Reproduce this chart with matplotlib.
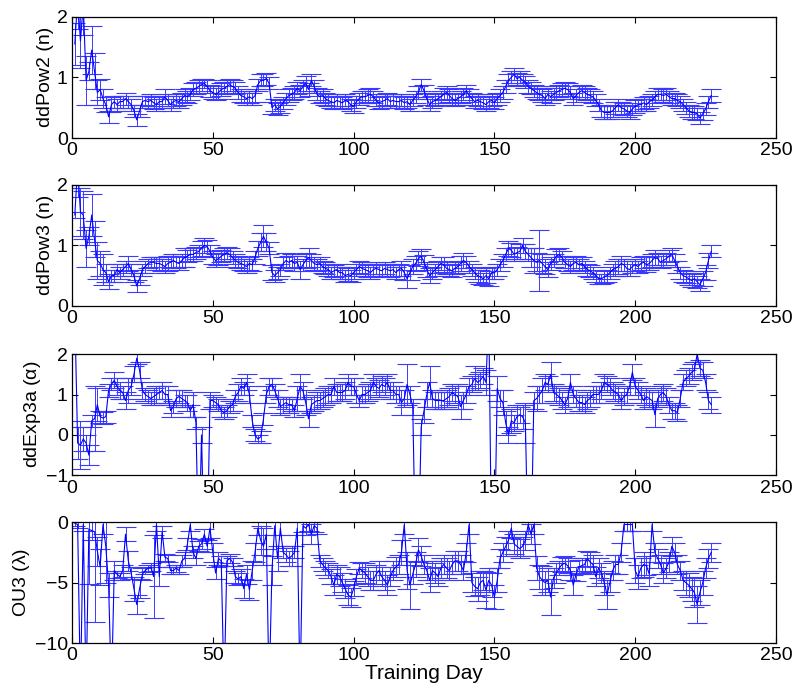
import numpy as np
import matplotlib.pyplot as plt

plt.rcParams['font.family'] = ['Liberation Sans', 'DejaVu Sans']
plt.rcParams['mathtext.fontset'] = 'custom'
plt.rcParams['mathtext.rm'] = 'Liberation Sans'
plt.rcParams['mathtext.it'] = 'Liberation Sans'

days = np.arange(1, 228)

pow2 = [1.55, 2.3, 1.6, 2.2, 0.95, 1.1, 1.45, 1.1, 0.75, 0.8,
        0.65, 0.55, 0.35, 0.55, 0.6, 0.55, 0.6, 0.6, 0.65, 0.6,
        0.55, 0.45, 0.3, 0.45, 0.6, 0.62, 0.6, 0.62, 0.58, 0.55,
        0.6, 0.6, 0.68, 0.62, 0.55, 0.6, 0.62, 0.6, 0.65, 0.7,
        0.68, 0.72, 0.8, 0.82, 0.85, 0.88, 0.9, 0.85, 0.78, 0.75,
        0.72, 0.75, 0.8, 0.82, 0.85, 0.88, 0.85, 0.82, 0.75, 0.7,
        0.68, 0.65, 0.68, 0.65, 0.7, 0.88, 0.95, 0.95, 0.98, 0.9,
        0.5, 0.55, 0.48, 0.52, 0.58, 0.65, 0.7, 0.72, 0.75, 0.82,
        0.78, 0.85, 0.9, 0.8, 0.95, 0.85, 0.72, 0.68, 0.7, 0.65,
        0.62, 0.6, 0.58, 0.62, 0.6, 0.58, 0.62, 0.6, 0.55, 0.52,
        0.6, 0.65, 0.68, 0.68, 0.7, 0.72, 0.68, 0.62, 0.58, 0.6,
        0.62, 0.65, 0.6, 0.62, 0.6, 0.6, 0.62, 0.58, 0.6, 0.55,
        0.62, 0.68, 0.75, 0.88, 0.78, 0.65, 0.55, 0.6, 0.62, 0.65,
        0.68, 0.72, 0.75, 0.7, 0.65, 0.62, 0.65, 0.68, 0.72, 0.78,
        0.7, 0.65, 0.6, 0.62, 0.6, 0.58, 0.55, 0.6, 0.62, 0.58,
        0.65, 0.7, 0.75, 0.85, 0.95, 1.0, 1.05, 0.98, 1.0, 0.95,
        0.92, 0.85, 0.82, 0.78, 0.75, 0.72, 0.7, 0.65, 0.72, 0.68,
        0.72, 0.75, 0.78, 0.8, 0.82, 0.8, 0.75, 0.65, 0.7, 0.75,
        0.78, 0.75, 0.72, 0.7, 0.68, 0.62, 0.55, 0.45, 0.42, 0.42,
        0.42, 0.45, 0.5, 0.55, 0.5, 0.48, 0.45, 0.42, 0.48, 0.52,
        0.55, 0.55, 0.58, 0.55, 0.6, 0.62, 0.68, 0.72, 0.72, 0.7,
        0.72, 0.68, 0.65, 0.65, 0.62, 0.6, 0.55, 0.5, 0.45, 0.42,
        0.42, 0.4, 0.33, 0.4, 0.48, 0.6, 0.7]
pow2_err = [0.35, 0.5, 0.45, 0.5, 0.4, 0.15, 0.4, 0.3, 0.2, 0.18,
            0.15, 0.12, 0.1, 0.12, 0.1, 0.1, 0.1, 0.1, 0.1, 0.1,
            0.1, 0.1, 0.1, 0.1, 0.1, 0.08, 0.1, 0.1, 0.1, 0.1,
            0.1, 0.1, 0.12, 0.1, 0.1, 0.1, 0.1, 0.1, 0.1, 0.1,
            0.1, 0.1, 0.1, 0.1, 0.1, 0.1, 0.08, 0.1, 0.1, 0.1,
            0.1, 0.1, 0.1, 0.1, 0.1, 0.1, 0.1, 0.1, 0.1, 0.1,
            0.1, 0.1, 0.1, 0.1, 0.1, 0.1, 0.1, 0.1, 0.1, 0.1,
            0.1, 0.1, 0.1, 0.1, 0.1, 0.1, 0.1, 0.1, 0.1, 0.1,
            0.1, 0.1, 0.12, 0.1, 0.1, 0.1, 0.1, 0.1, 0.1, 0.1,
            0.1, 0.1, 0.1, 0.1, 0.1, 0.1, 0.1, 0.1, 0.1, 0.1,
            0.1, 0.1, 0.1, 0.1, 0.1, 0.1, 0.1, 0.1, 0.1, 0.1,
            0.1, 0.1, 0.1, 0.1, 0.1, 0.1, 0.1, 0.1, 0.1, 0.1,
            0.1, 0.1, 0.1, 0.1, 0.1, 0.1, 0.1, 0.1, 0.1, 0.1,
            0.1, 0.1, 0.1, 0.1, 0.1, 0.1, 0.1, 0.1, 0.1, 0.1,
            0.1, 0.1, 0.1, 0.1, 0.1, 0.1, 0.1, 0.1, 0.1, 0.1,
            0.1, 0.1, 0.1, 0.1, 0.1, 0.1, 0.1, 0.1, 0.1, 0.1,
            0.1, 0.1, 0.1, 0.1, 0.1, 0.1, 0.1, 0.1, 0.1, 0.1,
            0.1, 0.1, 0.1, 0.1, 0.1, 0.1, 0.1, 0.1, 0.1, 0.1,
            0.1, 0.1, 0.1, 0.1, 0.1, 0.1, 0.1, 0.1, 0.1, 0.1,
            0.1, 0.1, 0.1, 0.1, 0.1, 0.1, 0.1, 0.1, 0.1, 0.1,
            0.1, 0.1, 0.1, 0.1, 0.1, 0.1, 0.1, 0.1, 0.1, 0.1,
            0.1, 0.1, 0.1, 0.1, 0.1, 0.1, 0.1, 0.1, 0.1, 0.1,
            0.1, 0.1, 0.1, 0.1, 0.1, 0.1, 0.1]

pow3 = [1.5, 2.3, 1.55, 1.5, 0.95, 1.15, 1.5, 1.1, 0.75, 0.7,
        0.6, 0.55, 0.4, 0.5, 0.5, 0.6, 0.55, 0.6, 0.65, 0.7,
        0.6, 0.5, 0.33, 0.45, 0.6, 0.65, 0.7, 0.72, 0.72, 0.7,
        0.7, 0.68, 0.65, 0.7, 0.72, 0.75, 0.72, 0.7, 0.75, 0.8,
        0.82, 0.85, 0.85, 0.88, 0.9, 0.95, 1.0, 0.98, 0.9, 0.8,
        0.75, 0.78, 0.82, 0.85, 0.88, 0.85, 0.8, 0.75, 0.72, 0.7,
        0.68, 0.65, 0.7, 0.68, 0.8, 0.95, 1.05, 1.15, 1.05, 0.95,
        0.55, 0.5, 0.55, 0.6, 0.7, 0.75, 0.72, 0.75, 0.7, 0.72,
        0.6, 0.68, 0.75, 0.8, 0.75, 0.7, 0.68, 0.7, 0.65, 0.62,
        0.6, 0.55, 0.58, 0.6, 0.55, 0.55, 0.5, 0.52, 0.5, 0.55,
        0.6, 0.65, 0.62, 0.6, 0.58, 0.55, 0.6, 0.62, 0.6, 0.58,
        0.62, 0.6, 0.58, 0.6, 0.55, 0.6, 0.62, 0.55, 0.45, 0.55,
        0.65, 0.7, 0.78, 0.82, 0.72, 0.6, 0.5, 0.55, 0.6, 0.65,
        0.7, 0.68, 0.62, 0.6, 0.58, 0.62, 0.65, 0.7, 0.75, 0.72,
        0.65, 0.6, 0.55, 0.5, 0.48, 0.45, 0.5, 0.45, 0.55, 0.55,
        0.6, 0.68, 0.75, 0.85, 0.95, 0.92, 0.85, 0.88, 0.9, 1.0,
        0.9, 0.85, 0.8, 0.75, 0.72, 0.75, 0.7, 0.65, 0.6, 0.7,
        0.75, 0.82, 0.85, 0.8, 0.72, 0.68, 0.65, 0.7, 0.72, 0.68,
        0.7, 0.65, 0.6, 0.58, 0.55, 0.5, 0.45, 0.45, 0.48, 0.5,
        0.55, 0.6, 0.62, 0.65, 0.7, 0.68, 0.62, 0.6, 0.65, 0.68,
        0.65, 0.7, 0.72, 0.68, 0.7, 0.75, 0.8, 0.78, 0.72, 0.75,
        0.78, 0.82, 0.85, 0.75, 0.65, 0.55, 0.5, 0.48, 0.45, 0.42,
        0.45, 0.4, 0.35, 0.45, 0.55, 0.75, 0.9]
pow3_err = [0.05, 0.5, 0.4, 0.4, 0.3, 0.15, 0.35, 0.3, 0.3, 0.2,
            0.25, 0.15, 0.12, 0.1, 0.1, 0.1, 0.1, 0.1, 0.1, 0.12,
            0.1, 0.1, 0.1, 0.1, 0.1, 0.1, 0.08, 0.08, 0.08, 0.1,
            0.1, 0.1, 0.1, 0.12, 0.1, 0.1, 0.1, 0.1, 0.1, 0.15,
            0.1, 0.1, 0.1, 0.1, 0.1, 0.12, 0.12, 0.1, 0.1, 0.1,
            0.1, 0.1, 0.1, 0.1, 0.1, 0.1, 0.1, 0.1, 0.1, 0.1,
            0.1, 0.1, 0.1, 0.1, 0.1, 0.12, 0.15, 0.18, 0.15, 0.1,
            0.12, 0.1, 0.1, 0.1, 0.1, 0.12, 0.1, 0.1, 0.12, 0.1,
            0.15, 0.1, 0.12, 0.15, 0.1, 0.1, 0.1, 0.1, 0.1, 0.1,
            0.1, 0.1, 0.1, 0.1, 0.1, 0.1, 0.1, 0.1, 0.1, 0.1,
            0.1, 0.1, 0.1, 0.1, 0.1, 0.1, 0.1, 0.1, 0.1, 0.1,
            0.1, 0.1, 0.1, 0.1, 0.1, 0.1, 0.12, 0.12, 0.15, 0.12,
            0.12, 0.12, 0.12, 0.12, 0.12, 0.12, 0.12, 0.1, 0.1, 0.1,
            0.1, 0.12, 0.1, 0.1, 0.1, 0.1, 0.1, 0.12, 0.12, 0.1,
            0.1, 0.1, 0.1, 0.1, 0.12, 0.1, 0.12, 0.12, 0.1, 0.1,
            0.1, 0.1, 0.1, 0.1, 0.12, 0.12, 0.1, 0.1, 0.12, 0.12,
            0.12, 0.1, 0.15, 0.2, 0.15, 0.5, 0.15, 0.12, 0.12, 0.1,
            0.1, 0.12, 0.1, 0.1, 0.1, 0.1, 0.1, 0.1, 0.1, 0.1,
            0.1, 0.1, 0.1, 0.1, 0.1, 0.1, 0.08, 0.08, 0.1, 0.1,
            0.1, 0.1, 0.12, 0.12, 0.12, 0.1, 0.12, 0.1, 0.1, 0.1,
            0.1, 0.1, 0.1, 0.12, 0.1, 0.1, 0.12, 0.1, 0.1, 0.1,
            0.1, 0.1, 0.1, 0.1, 0.1, 0.1, 0.1, 0.1, 0.1, 0.1,
            0.1, 0.1, 0.1, 0.12, 0.12, 0.12, 0.1]

exp3a = [3.0, -0.2, -0.25, -0.1, -0.2, -0.5, 0.35, 0.4, 0.75, 0.45,
         0.42, 0.45, 1.1, 1.25, 1.35, 1.2, 1.1, 1.05, 0.85, 1.1,
         1.2, 1.5, 1.9, 1.6, 1.1, 1.0, 0.95, 0.9, 0.95, 1.0,
         1.05, 1.1, 1.0, 1.0, 0.6, 0.7, 0.9, 0.95, 0.9, 0.85,
         0.8, 0.6, 0.75, 0.3, -3.0, 0.0, -3.0, -3.0, 0.85, 0.85,
         0.8, 0.75, 0.6, 0.55, 0.6, 0.7, 0.75, 0.95, 1.05, 1.2,
         1.15, 1.3, 1.0, 0.35, 0.0, -0.1, -0.05, 0.4, 1.0, 1.2,
         1.25, 1.1, 0.9, 0.7, 0.75, 0.8, 0.75, 0.75, 0.6, 0.9,
         1.2, 1.1, 0.8, 0.4, 0.75, 0.8, 0.85, 0.85, 0.9, 0.95,
         1.0, 1.0, 1.2, 1.05, 1.05, 1.05, 1.1, 1.3, 1.2, 1.2,
         1.0, 0.85, 1.0, 1.0, 1.05, 1.1, 1.3, 1.2, 1.15, 1.25,
         1.2, 1.3, 1.1, 1.1, 1.0, 1.0, 0.8, 0.9, 1.25, 1.0,
         0.7, -3.0, -3.0, 0.2, 0.6, 1.0, 1.3, 0.9, 0.85, 0.85,
         0.85, 0.85, 0.9, 0.95, 1.05, 1.0, 0.95, 0.7, 0.85, 1.0,
         1.2, 1.25, 1.4, 1.3, 1.35, 1.45, 1.3, 3.0, -3.0, -3.0,
         1.15, 0.9, 0.8, 0.3, 0.0, 0.35, 0.3, 0.45, 0.5, 0.45,
         0.3, -3.0, -3.0, 0.85, 0.9, 1.0, 1.1, 1.3, 1.25, 1.5,
         1.05, 1.0, 0.95, 0.85, 0.75, 0.9, 1.3, 1.0, 0.9, 0.8,
         0.8, 0.75, 0.85, 0.9, 1.0, 1.0, 1.0, 1.1, 1.3, 1.25,
         1.2, 1.1, 1.05, 1.0, 0.85, 0.95, 1.0, 1.2, 1.55, 1.2,
         1.1, 1.0, 0.85, 0.95, 0.9, 0.85, 0.5, 0.9, 1.0, 1.05,
         0.95, 0.75, 0.6, 0.6, 0.55, 0.9, 1.3, 1.4, 1.45, 1.55,
         1.6, 2.0, 1.65, 1.6, 1.3, 0.85, 0.75]
exp3a_err = [0.3, 0.4, 0.6, 0.3, 0.2, 0.25, 0.15, 0.8, 0.4, 0.15,
             0.15, 0.15, 0.15, 0.15, 0.2, 0.2, 0.2, 0.15, 0.2, 0.3,
             0.2, 0.2, 0.15, 0.2, 0.2, 0.15, 0.15, 0.15, 0.2, 0.2,
             0.15, 0.2, 0.2, 0.2, 0.15, 0.15, 0.2, 0.15, 0.2, 0.15,
             0.2, 0.15, 0.3, 0.15, 0.2, 0.2, 0.2, 0.2, 0.2, 0.15,
             0.15, 0.15, 0.15, 0.15, 0.15, 0.15, 0.15, 0.15, 0.2, 0.2,
             0.15, 0.2, 0.2, 0.15, 0.15, 0.1, 0.15, 0.15, 0.2, 0.2,
             0.15, 0.15, 0.2, 0.2, 0.2, 0.15, 0.2, 0.15, 0.15, 0.3,
             0.3, 0.2, 0.3, 0.2, 0.2, 0.2, 0.2, 0.2, 0.2, 0.2,
             0.2, 0.2, 0.2, 0.2, 0.2, 0.2, 0.2, 0.2, 0.2, 0.2,
             0.2, 0.15, 0.2, 0.2, 0.2, 0.2, 0.2, 0.2, 0.2, 0.2,
             0.2, 0.2, 0.2, 0.2, 0.2, 0.2, 0.3, 0.2, 0.5, 0.2,
             0.2, 0.2, 0.2, 0.2, 0.3, 0.3, 0.4, 0.2, 0.2, 0.2,
             0.2, 0.2, 0.2, 0.2, 0.2, 0.2, 0.3, 0.3, 0.2, 0.2,
             0.2, 0.2, 0.3, 0.2, 0.2, 0.2, 0.3, 0.2, 0.2, 0.2,
             0.3, 0.2, 0.3, 0.3, 0.2, 0.3, 0.2, 0.3, 0.2, 0.3,
             0.5, 0.2, 0.2, 0.2, 0.3, 0.2, 0.3, 0.2, 0.2, 0.3,
             0.2, 0.2, 0.2, 0.2, 0.2, 0.2, 0.2, 0.2, 0.2, 0.2,
             0.2, 0.2, 0.2, 0.2, 0.2, 0.2, 0.2, 0.2, 0.2, 0.2,
             0.2, 0.2, 0.2, 0.2, 0.2, 0.2, 0.2, 0.2, 0.2, 0.2,
             0.2, 0.2, 0.2, 0.2, 0.2, 0.2, 0.3, 0.2, 0.2, 0.2,
             0.2, 0.2, 0.2, 0.2, 0.2, 0.2, 0.2, 0.2, 0.2, 0.2,
             0.2, 0.2, 0.2, 0.2, 0.2, 0.2, 0.2]

ou3 = [-0.1, -0.2, -14, -0.2, -14, -0.6, -0.7, -0.8, -2.4, -3.7,
       -0.2, -2.0, -5.2, -14, -4.0, -4.3, -4.5, -4.0, -1.0, -3.2,
       -4.2, -5.5, -6.8, -5.5, -4.3, -4.0, -3.8, -3.7, -4.5, -0.2,
       -4.5, -0.8, -2.9, -3.0, -4.0, -4.0, -3.8, -4.0, -3.2, -3.0,
       -1.8, -0.2, -2.5, -3.0, -2.0, -1.8, -1.0, -2.0, -0.5, -2.5,
       -4.2, -3.0, -3.2, -14, -3.2, -3.0, -3.3, -4.5, -4.7, -4.5,
       -5.5, -4.3, -5.6, -4.0, -2.5, -0.5, -1.5, -2.0, -1.0, -14,
       -4.0, -0.3, -3.0, -0.5, -2.5, -2.7, -3.0, -2.8, -2.5, -0.5,
       -14, -0.3, -0.5, -0.2, -1.0, -0.3, -0.5, -3.2, -3.5, -3.8,
       -4.0, -4.5, -5.2, -4.3, -4.5, -5.0, -5.5, -6.0, -6.2, -5.5,
       -4.5, -3.8, -4.0, -4.2, -4.5, -4.8, -4.8, -4.3, -4.0, -4.5,
       -4.8, -5.2, -4.5, -4.0, -3.7, -3.5, -2.5, -0.2, -4.0, -5.2,
       -4.3, -3.5, -2.3, -2.8, -3.5, -4.0, -4.8, -4.0, -4.2, -4.5,
       -3.8, -3.5, -3.8, -4.0, -3.5, -3.2, -3.2, -3.5, -4.0, -2.5,
       -0.2, -5.0, -5.3, -5.5, -5.0, -4.8, -5.6, -4.8, -5.2, -6.2,
       -4.8, -3.0, -2.5, -2.0, -1.5, -0.5, -1.8, -2.0, -2.2, -2.0,
       -1.5, -0.2, -1.0, -0.2, -3.8, -4.5, -4.8, -5.0, -4.8, -6.2,
       -4.6, -4.2, -3.8, -3.5, -3.4, -3.6, -4.0, -5.2, -4.3, -3.7,
       -3.6, -3.5, -3.0, -3.3, -3.5, -4.5, -3.8, -4.2, -5.0, -6.0,
       -5.0, -4.0, -3.5, -3.5, -2.5, -0.2, -0.2, -0.2, -0.2, -4.0,
       -4.5, -3.8, -3.5, -3.6, -4.3, -0.2, -2.5, -3.0, -3.5, -4.2,
       -3.8, -3.3, -2.0, -2.5, -3.5, -4.0, -4.8, -5.0, -5.2, -5.5,
       -5.8, -6.8, -5.8, -5.0, -3.8, -3.0, -2.5]
ou3_err = [0.2, 0.3, 1.0, 0.5, 1.0, 4.5, 0.8, 7.4, 1.2, 1.5,
           0.8, 3.0, 1.0, 1.0, 0.8, 0.3, 0.3, 0.5, 0.6, 0.8,
           0.5, 1.0, 0.8, 0.8, 0.5, 0.3, 0.3, 0.3, 3.4, 0.5,
           0.8, 0.5, 0.3, 0.3, 0.3, 0.3, 0.3, 0.3, 0.5, 0.5,
           0.5, 0.5, 0.5, 0.5, 0.4, 0.4, 0.4, 0.5, 0.8, 0.8,
           0.5, 0.5, 0.4, 1.0, 0.4, 0.4, 0.3, 0.5, 0.5, 0.6,
           0.8, 0.8, 0.8, 0.8, 0.8, 0.6, 1.2, 1.5, 1.2, 1.0,
           1.2, 0.8, 1.0, 0.6, 0.5, 0.6, 0.6, 0.8, 0.5, 0.6,
           1.0, 0.5, 0.6, 0.5, 0.8, 0.5, 0.5, 0.5, 0.5, 0.6,
           0.6, 0.6, 0.8, 0.8, 0.8, 0.8, 0.8, 0.8, 0.8, 0.6,
           0.6, 0.5, 0.6, 0.8, 0.8, 0.8, 0.8, 0.8, 0.8, 0.8,
           0.8, 0.8, 0.8, 0.8, 0.8, 0.8, 1.0, 0.8, 1.5, 2.0,
           0.8, 1.0, 1.0, 0.8, 0.8, 0.8, 1.0, 0.8, 0.8, 0.8,
           0.8, 0.8, 0.8, 0.8, 0.8, 0.8, 0.8, 0.8, 0.8, 0.8,
           0.8, 0.8, 0.8, 1.0, 1.0, 0.8, 1.5, 1.0, 1.0, 1.0,
           1.0, 0.8, 0.8, 0.8, 0.8, 0.8, 0.8, 0.8, 0.8, 0.8,
           0.8, 0.8, 0.8, 0.8, 1.0, 1.0, 1.2, 1.0, 1.0, 1.5,
           0.8, 0.8, 0.6, 0.6, 0.6, 0.6, 0.8, 0.8, 0.6, 0.6,
           0.6, 0.5, 0.6, 0.8, 0.8, 0.8, 0.8, 0.8, 1.0, 1.2,
           0.8, 0.8, 0.8, 0.8, 0.8, 0.5, 0.5, 0.5, 0.5, 1.0,
           1.0, 0.8, 1.0, 0.8, 1.0, 0.5, 0.8, 0.8, 0.8, 0.8,
           0.8, 0.8, 0.8, 0.8, 0.8, 0.8, 0.8, 1.0, 1.0, 1.0,
           1.2, 1.5, 1.0, 1.0, 0.8, 0.8, 0.8]

panels = [
    (pow2, pow2_err, 'ddPow2 (n)', (0, 2), [0, 1, 2]),
    (pow3, pow3_err, 'ddPow3 (n)', (0, 2), [0, 1, 2]),
    (exp3a, exp3a_err, r'ddExp3a ($\alpha$)', (-1, 2), [-1, 0, 1, 2]),
    (ou3, ou3_err, r'OU3 ($\lambda$)', (-10, 0), [-10, -5, 0]),
]

fig = plt.figure(figsize=(8.0, 6.97), dpi=100)
tops = [0.976, 0.735, 0.492, 0.251]
height = 0.174
for (vals, errs, label, ylim, yticks), top in zip(panels, tops):
    ax = fig.add_axes([0.09, top - height, 0.88, height])
    line, caps, bars = ax.errorbar(days, vals, yerr=errs, color='#0000ff',
                                   ecolor='#3a3aff', linewidth=0.8,
                                   elinewidth=0.7, capsize=7, capthick=0.8)
    for c in caps:
        c.set_color('#3a3aff')
        c.set_markeredgecolor('#3a3aff')
    ax.set_xlim(0, 250)
    ax.set_ylim(*ylim)
    ax.set_yticks(yticks)
    ax.set_xticks([0, 50, 100, 150, 200, 250])
    ax.set_ylabel(label, fontsize=14, labelpad=2)
    ax.tick_params(direction='in', top=True, right=True, labelsize=14,
                   length=4, pad=3)
    for s in ax.spines.values():
        s.set_linewidth(0.9)

ax.set_xlabel('Training Day', fontsize=15, labelpad=0)

fig.savefig('out.png', dpi=100, facecolor='white')
